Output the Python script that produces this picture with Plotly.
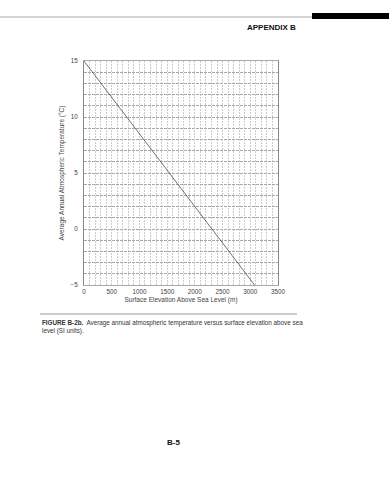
import plotly.graph_objects as go

# Data
elevation_m = [0, 3077]
temperature_c = [15, -5]
x_ticks = [0, 500, 1000, 1500, 2000, 2500, 3000, 3500]
y_ticks = [-5, 0, 5, 10, 15]

W, H = 389, 480
L, R, T, B = 84, 278, 61, 285

def px(x):
    return (x - L) / (R - L)

def py(y):
    return (B - y) / (B - T)

font = "Liberation Sans, Arial, sans-serif"

fig = go.Figure()
fig.add_trace(go.Scatter(x=elevation_m, y=temperature_c, mode="lines",
                         line=dict(color="#333333", width=0.7), showlegend=False,
                         hoverinfo="skip"))

fig.update_layout(
    width=W, height=H,
    margin=dict(l=L, r=W - R, t=T, b=H - B),
    paper_bgcolor="white", plot_bgcolor="white",
    font=dict(family=font, size=6, color="#333"),
    showlegend=False,
)
fig.update_xaxes(range=[0, 3500], tickvals=x_ticks, ticktext=[str(v) for v in x_ticks],
                 showgrid=True, gridcolor="#cccccc", gridwidth=0.8, griddash="2px,1px",
                 minor=dict(dtick=100, showgrid=True, gridcolor="#cccccc", gridwidth=0.8, griddash="2px,1px"),
                 showline=True, linecolor="#aaaaaa", linewidth=1, mirror=True,
                 ticks="", zeroline=False, tickfont=dict(size=6.3, color="#444"),
                 title=dict(text="Surface Elevation Above Sea Level (m)", font=dict(size=6.5, color="#444"), standoff=3))
fig.update_yaxes(range=[-5, 15], tickvals=y_ticks, ticktext=["\u22125", "0", "5", "10", "15"],
                 showgrid=True, gridcolor="#a8a8a8", gridwidth=0.8, griddash="3px,1px",
                 minor=dict(dtick=1, showgrid=True, gridcolor="#a8a8a8", gridwidth=0.8, griddash="3px,1px"),
                 showline=True, linecolor="#888888", linewidth=1, mirror=True,
                 ticks="", zeroline=False, tickfont=dict(size=6.3, color="#444"), ticklabelstandoff=4,
                 title=dict(text="Average Annual Atmospheric Temperature (\u00b0C)", font=dict(size=6.5, color="#444"), standoff=5))

shapes = [
    dict(type="line", xref="paper", yref="paper", x0=px(0), x1=px(312), y0=py(17), y1=py(17),
         line=dict(color="#aaaaaa", width=1)),
    dict(type="rect", xref="paper", yref="paper", x0=px(312), x1=px(389), y0=py(13), y1=py(19),
         fillcolor="black", line=dict(width=0)),
    dict(type="line", xref="paper", yref="paper", x0=px(40), x1=px(297), y0=py(314), y1=py(314),
         line=dict(color="#999999", width=1)),
]
fig.update_layout(shapes=shapes)

anns = [
    dict(text="<b>APPENDIX B</b>", x=px(298), y=py(27), xanchor="right", yanchor="middle",
         font=dict(size=8, color="#111", family=font)),
    dict(text="<b>FIGURE B-2b.</b>  Average annual atmospheric temperature versus surface elevation above sea<br>level (SI units).",
         x=px(40), y=py(317), xanchor="left", yanchor="top", align="left",
         font=dict(size=6.3, color="#333", family=font)),
    dict(text="<b>B-5</b>", x=px(173), y=py(442), xanchor="center", yanchor="middle",
         font=dict(size=8, color="#111", family=font)),
]
for a in anns:
    a.update(xref="paper", yref="paper", showarrow=False)
fig.update_layout(annotations=anns)

fig.write_html("out.html")
